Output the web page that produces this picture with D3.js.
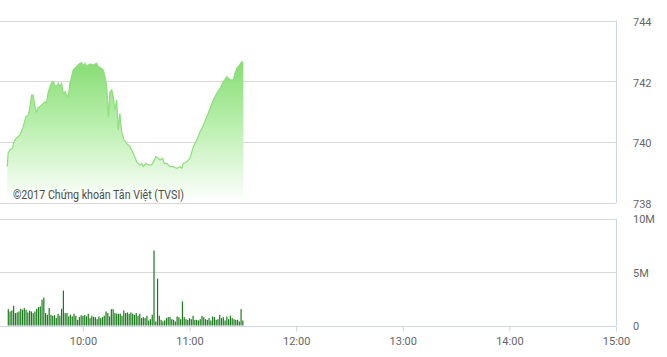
<!DOCTYPE html>
<html><head><meta charset="utf-8">
<script src="https://cdn.jsdelivr.net/npm/d3@7"></script>
<style>
html,body{margin:0;padding:0;background:#fff;}
svg{display:block;font-family:Roboto,"Noto Sans",sans-serif;}
</style></head>
<body>
<svg id="c" width="667" height="357"></svg>
<script>
// ---- data ----
// price points: minutes after 09:00 and index value
const priceTimes = [17.4,17.9,18.9,20.4,21.1,22.6,24.5,26.4,27.9,29.2,30.1,31.1,32.0,33.0,33.9,34.8,36.7,38.6,39.5,40.4,41.4,42.4,43.3,44.2,45.2,46.1,47.0,48.0,48.9,49.9,50.8,51.7,52.7,53.6,54.5,56.4,58.3,59.3,60.2,61.1,62.1,63.0,63.9,65.8,67.7,68.6,70.5,71.4,72.4,73.4,74.3,75.2,76.2,77.1,78.0,79.0,79.9,80.8,81.8,83.1,84.6,86.5,88.3,90.3,92.1,93.1,94.0,95.5,96.8,98.7,99.6,101.1,102.4,103.4,104.9,105.8,107.2,109.0,110.9,112.8,114.7,115.6,116.5,118.4,120.3,122.1,124.1,125.9,127.8,129.7,131.6,133.4,135.3,137.2,139.0,141.0,142.8,144.7,145.6,146.6,148.1,149.4,150.3];
const priceValues = [739.18,739.63,739.73,739.80,740.00,740.13,740.22,740.50,740.83,740.88,741.12,741.54,741.54,741.16,740.99,741.12,741.21,741.32,741.28,741.61,741.82,741.94,741.98,741.87,741.82,741.93,741.82,741.93,741.60,741.65,741.54,741.49,741.93,742.15,742.37,742.48,742.59,742.61,742.50,742.59,742.48,742.53,742.57,742.53,742.59,742.48,742.42,742.37,742.15,741.82,740.83,741.65,741.71,741.49,741.05,741.38,740.39,740.94,740.33,740.06,739.95,739.84,739.62,739.34,739.24,739.29,739.18,739.29,739.24,739.24,739.34,739.51,739.46,739.40,739.46,739.29,739.29,739.18,739.18,739.13,739.18,739.13,739.29,739.34,739.46,739.84,740.06,740.33,740.55,740.83,741.11,741.38,741.60,741.76,741.98,742.15,742.04,742.04,742.26,742.42,742.53,742.64,742.59];
// volume: one bar per minute starting 09:18, in millions
const volStart = "09:18";
const volumes = [1.53,1.31,1.41,1.85,1.16,1.22,1.31,1.56,1.47,1.63,1.47,1.22,1.38,1.31,1.16,1.31,1.56,1.72,1.78,2.41,2.60,1.16,1.00,1.63,1.00,0.91,0.97,0.69,1.10,0.91,1.56,3.26,
 1.16,1.16,0.85,1.00,0.85,1.10,0.91,0.53,0.78,0.95,0.91,0.97,0.85,1.10,0.69,0.91,0.80,0.78,0.59,0.85,0.69,0.78,0.91,1.31,1.16,0.85,1.53,1.53,1.16,1.10,
 1.10,1.10,0.91,1.41,1.16,1.22,1.10,1.22,1.10,1.00,1.16,0.91,1.10,0.69,0.78,0.69,0.91,0.47,0.59,1.00,7.01,0.38,4.38,0.91,0.53,0.38,0.47,0.69,0.78,0.78,0.59,0.53,0.38,0.85,0.78,0.59,2.25,
 0.78,0.59,0.53,0.69,0.59,0.91,0.53,0.53,0.47,0.59,0.91,0.78,0.59,0.53,0.69,0.47,0.85,0.78,0.53,0.59,1.00,0.69,0.78,0.47,0.85,0.59,0.91,0.69,0.59,0.53,0.53,0.38,1.53,0.47];
const timeTicks = ["10:00","11:00","12:00","13:00","14:00","15:00"];
const priceTicks = [738,740,742,744];
const volTicks = [0,5,10];
const volTickLabels = ["0","5M","10M"];
const watermark = "©2017 Chứng khoán Tân Việt (TVSI)";

// ---- helpers ----
const toMin = s => { const [h,m] = s.split(":").map(Number); return (h-9)*60 + m; };

const svg = d3.select("#c");
const W = 616;
const x = d3.scaleLinear().domain([13.33, 360]).range([0, W]);
const yP = d3.scaleLinear().domain([738, 744]).range([202.5, 20.5]);
const yV = d3.scaleLinear().domain([0, 10]).range([325.5, 218.5]);

const gridC = "#d8d8d8", axisC = "#ccd6eb", txtC = "#666";

// gradient
const defs = svg.append("defs");
const gr = defs.append("linearGradient").attr("id","ag")
  .attr("gradientUnits","userSpaceOnUse").attr("x1",0).attr("x2",0)
  .attr("y1", yP(742.7)).attr("y2", yP(738));
gr.append("stop").attr("offset",0).attr("stop-color","#86dc72").attr("stop-opacity",1);
gr.append("stop").attr("offset",0.45).attr("stop-color","#b9efad").attr("stop-opacity",1);
gr.append("stop").attr("offset",1).attr("stop-color","#ffffff").attr("stop-opacity",1);

// top panel gridlines
svg.append("g").selectAll("line").data(priceTicks).join("line")
  .attr("x1",0).attr("x2",W).attr("y1",d=>Math.round(yP(d))+0.5).attr("y2",d=>Math.round(yP(d))+0.5)
  .attr("stroke",gridC).attr("stroke-width",1);
svg.append("line").attr("x1",W+0.5).attr("x2",W+0.5).attr("y1",yP(744)).attr("y2",yP(738)+0.5)
  .attr("stroke",axisC);

// price area + line
const pts = priceTimes.map((t,i)=>({t, v:priceValues[i]})).filter(d=>d.v!==undefined);
svg.append("path").datum(pts)
  .attr("d", d3.area().x(d=>x(d.t)).y0(yP(738)).y1(d=>yP(d.v)))
  .attr("fill","url(#ag)");
svg.append("path").datum(pts)
  .attr("d", d3.line().x(d=>x(d.t)).y(d=>yP(d.v)))
  .attr("fill","none").attr("stroke","#8fde7e").attr("stroke-width",1.2);

// watermark
svg.append("text").attr("x",13).attr("y",199).text(watermark)
  .attr("font-size",12).attr("fill","#4d4d4d")
  .attr("textLength",171).attr("lengthAdjust","spacingAndGlyphs");

// price axis labels
svg.append("g").selectAll("text").data(priceTicks).join("text")
  .attr("x",633).attr("y",d=>yP(d)+1.5).attr("dy","0.35em")
  .attr("font-size",11).attr("fill",txtC).text(d=>d);

// volume panel
svg.append("g").selectAll("line").data([5,10]).join("line")
  .attr("x1",0).attr("x2",W).attr("y1",d=>Math.round(yV(d))+0.5).attr("y2",d=>Math.round(yV(d))+0.5)
  .attr("stroke",gridC);
svg.append("line").attr("x1",W+0.5).attr("x2",W+0.5).attr("y1",yV(10)).attr("y2",yV(0))
  .attr("stroke",axisC);

const v0 = toMin(volStart);
svg.append("g").selectAll("rect").data(volumes).join("rect")
  .attr("x",(d,i)=>x(v0+i)-0.6).attr("width",1.2)
  .attr("y",d=>yV(d)).attr("height",d=>yV(0)-yV(d))
  .attr("fill","#1b7a1b");

svg.append("g").selectAll("text").data(volTicks).join("text")
  .attr("x",633).attr("y",d=>yV(d)+1).attr("dy","0.35em")
  .attr("font-size",11).attr("fill",txtC).text((d,i)=>volTickLabels[i]);

// time axis
const xa = svg.append("g").attr("transform",`translate(0,${Math.round(yV(0))+0.5})`)
  .call(d3.axisBottom(x).tickValues(timeTicks.map(toMin)).tickSize(5).tickPadding(6)
    .tickFormat((d,i)=>timeTicks[i]));
xa.select(".domain").attr("stroke",axisC).attr("d",`M0,0H${W}`);
xa.selectAll(".tick line").attr("stroke",axisC);
xa.selectAll(".tick text").attr("fill",txtC).attr("font-size",11).attr("font-family","Roboto,sans-serif");
</script>
</body></html>
